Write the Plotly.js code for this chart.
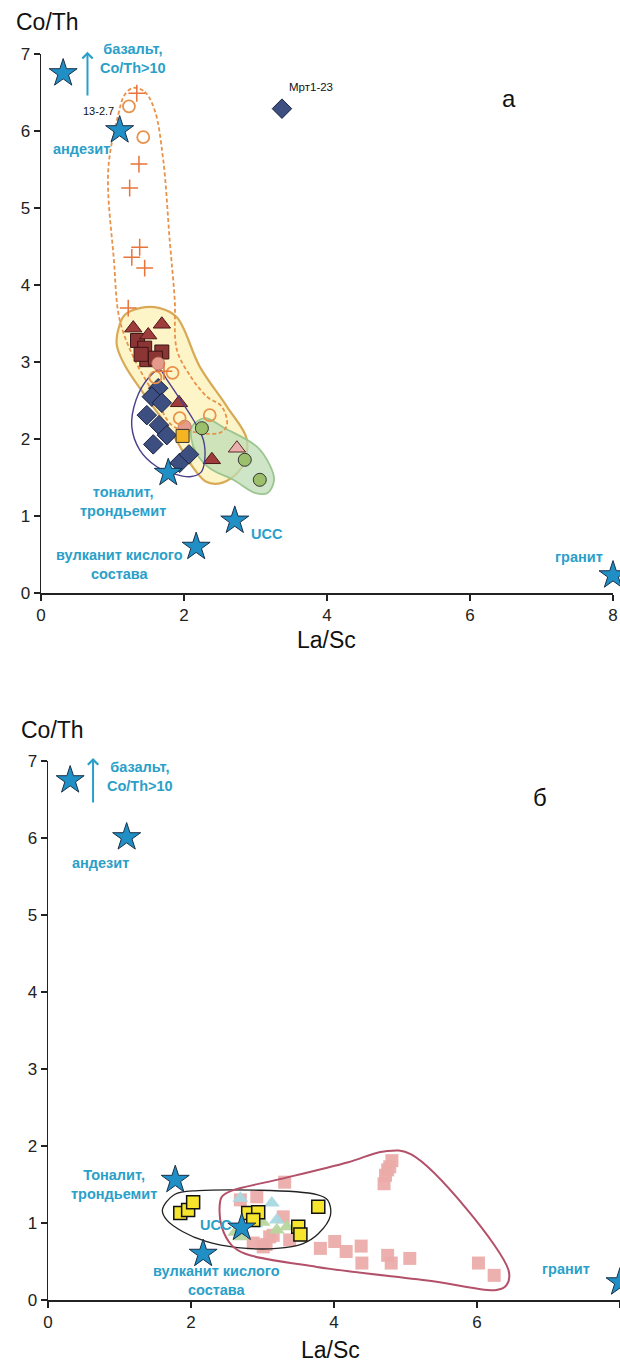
<!DOCTYPE html>
<html><head><meta charset="utf-8">
<script src="https://cdn.plot.ly/plotly-3.0.1.min.js"></script>
<style>html,body{margin:0;padding:0;background:#fff}</style>
</head><body>
<div id="chart" style="width:620px;height:1368px"></div>
<script>
// ---------- Panel a data ----------
const refNames = ['базальт', 'андезит', 'тоналит, трондьемит', 'UCC', 'вулканит кислого состава', 'гранит'];
const refX = [0.31, 1.10, 1.78, 2.71, 2.17, 8.0];
const refY = [6.75, 6.01, 1.56, 0.94, 0.60, 0.23];

const aPlusX = [1.34, 1.37, 1.24, 1.38, 1.27, 1.45, 1.22, 1.72];
const aPlusY = [6.49, 5.57, 5.26, 4.49, 4.36, 4.22, 3.70, 2.88];
const aOpenCircX = [1.23, 1.43, 1.84, 1.60, 1.94, 2.36];
const aOpenCircY = [6.32, 5.92, 2.86, 2.80, 2.27, 2.31];
const aRedTriX = [1.29, 1.69, 1.50, 1.93, 2.39];
const aRedTriY = [3.44, 3.49, 3.35, 2.47, 1.73];
const aPinkTriX = [2.74];
const aPinkTriY = [1.88];
const aRedSqX = [1.35, 1.45, 1.69, 1.48, 1.60, 1.40];
const aRedSqY = [3.28, 3.18, 3.13, 3.03, 3.05, 3.10];
const aSalmonX = [1.64, 2.01];
const aSalmonY = [2.98, 2.16];
const aGoldSqX = [1.98];
const aGoldSqY = [2.04];
const aGreenX = [2.25, 2.85, 3.06];
const aGreenY = [2.14, 1.73, 1.47];
const aDiaX = [1.64, 1.55, 1.69, 1.48, 1.65, 1.76, 1.57, 1.94, 2.07, 3.37];
const aDiaY = [2.66, 2.55, 2.47, 2.31, 2.18, 2.05, 1.93, 1.69, 1.80, 6.29];

// envelopes panel a
const envYellowX = [1.08, 1.17, 1.38, 1.66, 1.90, 2.22, 2.60, 2.88, 2.80, 2.53, 2.32, 2.15, 1.80, 1.45, 1.17, 1.06];
const envYellowY = [3.42, 3.61, 3.70, 3.70, 3.58, 2.94, 2.42, 1.99, 1.62, 1.43, 1.44, 1.60, 2.12, 2.57, 2.96, 3.22];
const envGreenX = [2.11, 2.29, 2.57, 3.02, 3.20, 3.26, 3.17, 2.99, 2.69, 2.36, 2.17, 2.10];
const envGreenY = [2.16, 2.27, 2.14, 1.90, 1.66, 1.47, 1.30, 1.30, 1.47, 1.62, 1.82, 2.01];
const envNavyX = [1.66, 1.50, 1.33, 1.27, 1.38, 1.62, 1.85, 2.08, 2.24, 2.29, 2.27, 2.13, 1.92, 1.76];
const envNavyY = [2.90, 2.79, 2.51, 2.16, 1.86, 1.64, 1.55, 1.51, 1.57, 1.73, 1.99, 2.25, 2.55, 2.77];
const envOrangeX = [1.29, 1.45, 1.59, 1.71, 1.80, 1.87, 1.90, 2.08, 2.32, 2.53, 2.60, 2.50, 2.15, 1.83, 1.59, 1.31, 1.10, 1.02, 0.94, 1.08, 1.17];
const envOrangeY = [6.56, 6.51, 6.27, 5.62, 4.58, 3.81, 3.16, 2.83, 2.55, 2.42, 2.18, 2.08, 2.09, 2.18, 2.57, 3.03, 3.55, 4.32, 5.49, 6.21, 6.47];

// ---------- Panel b data ----------
const bYellowSqX = [1.85, 1.96, 2.03, 2.80, 2.94, 2.87, 3.50, 3.53, 3.78];
const bYellowSqY = [1.13, 1.17, 1.27, 1.13, 1.14, 1.04, 0.95, 0.85, 1.21];
const bPinkSqX = [3.31, 2.69, 2.92, 3.10, 3.29, 3.38, 2.87, 3.01, 3.15, 3.81, 4.01, 4.17, 4.38, 4.39, 4.75, 4.80, 5.06, 6.02, 6.24, 4.70, 4.72, 4.75, 4.78, 4.81, 3.05];
const bPinkSqY = [1.53, 1.30, 1.34, 0.82, 1.08, 0.78, 0.74, 0.69, 0.84, 0.67, 0.76, 0.63, 0.70, 0.48, 0.58, 0.48, 0.54, 0.48, 0.32, 1.51, 1.62, 1.69, 1.73, 1.81, 0.72];
const bBlueTriX = [2.69, 3.13, 3.20, 2.90];
const bBlueTriY = [1.32, 1.26, 1.04, 0.99];
const bGreenTriX = [3.00, 3.20, 2.69, 3.34, 2.62];
const bGreenTriY = [1.01, 0.91, 0.82, 0.95, 0.88];

const envBlackX = [1.60, 1.77, 2.10, 3.76, 3.91, 3.95, 3.78, 3.56, 3.20, 2.65, 2.21, 1.88, 1.66];
const envBlackY = [1.17, 1.37, 1.42, 1.37, 1.30, 1.10, 0.86, 0.73, 0.67, 0.68, 0.76, 0.89, 1.04];
const envRedX = [2.43, 2.57, 3.20, 4.20, 4.70, 5.08, 6.44, 6.41, 6.27, 5.41, 3.76, 2.76, 2.57, 2.43, 2.40];
const envRedY = [1.34, 1.42, 1.56, 1.79, 1.93, 1.89, 0.39, 0.19, 0.13, 0.24, 0.43, 0.60, 0.71, 0.95, 1.21];

// ---------- helpers ----------
function closed(a) { return a.concat([a[0]]); }
function env(xs, ys, xa, ya, lineColor, width, dash, fillColor) {
  return {x: closed(xs), y: closed(ys), xaxis: xa, yaxis: ya, mode: 'lines', type: 'scatter',
    line: {color: lineColor, width: width, dash: dash, shape: 'spline', smoothing: 1},
    fill: fillColor ? 'toself' : 'none', fillcolor: fillColor || 'rgba(0,0,0,0)', hoverinfo: 'skip'};
}
function pts(xs, ys, xa, ya, symbol, size, color, lineColor, lineWidth, opacity) {
  return {x: xs, y: ys, xaxis: xa, yaxis: ya, mode: 'markers', type: 'scatter', cliponaxis: false,
    marker: {symbol: symbol, size: size, color: color, opacity: opacity || 1,
      line: {color: lineColor, width: lineWidth}}};
}
const STAR = '#1f8fc6', STARL = '#1b3148';
const TEAL = '#2aa0c9';

const traces = [
  env(envYellowX, envYellowY, 'x', 'y', '#d8aa58', 2.2, 'solid', 'rgba(253,243,185,0.8)'),
  env(envGreenX, envGreenY, 'x', 'y', '#9cc690', 1.8, 'solid', 'rgba(190,220,180,0.75)'),
  env(envOrangeX, envOrangeY, 'x', 'y', '#e8924a', 1.8, '4px,2.5px', null),
  pts(aRedSqX, aRedSqY, 'x', 'y', 'square', 14, '#8c3535', '#3c1414', 1),
  pts(aRedTriX, aRedTriY, 'x', 'y', 'triangle-up', 15, '#a03c3c', '#4a1818', 1),
  pts(aPinkTriX, aPinkTriY, 'x', 'y', 'triangle-up', 15, '#eab0ae', '#5a2a2a', 1),
  env(envNavyX, envNavyY, 'x', 'y', '#4b3f8c', 1.4, 'solid', null),
  pts(aDiaX, aDiaY, 'x', 'y', 'diamond', 15, '#3d4e80', '#1a2240', 1),
  pts(aSalmonX, aSalmonY, 'x', 'y', 'circle', 13, '#e49b8c', '#b86a5a', 0.8),
  pts(aGoldSqX, aGoldSqY, 'x', 'y', 'square', 13, '#f6b422', '#333', 1),
  pts(aGreenX, aGreenY, 'x', 'y', 'circle', 13, '#9cbf6c', '#333', 1),
  pts(aOpenCircX, aOpenCircY, 'x', 'y', 'circle-open', 12, '#e8924a', '#e8924a', 1.8),
  pts(aPlusX, aPlusY, 'x', 'y', 'cross-thin', 12, '#e8743a', '#e8743a', 1.5),
  pts(refX, refY, 'x', 'y', 'star', 21, STAR, STARL, 1),

  pts(bPinkSqX, bPinkSqY, 'x2', 'y2', 'square', 13, '#eaaaa7', '#eaaaa7', 0, 0.92),
  pts(bBlueTriX, bBlueTriY, 'x2', 'y2', 'triangle-up', 14, '#a9d9e2', '#a9d9e2', 0, 0.95),
  pts(bGreenTriX, bGreenTriY, 'x2', 'y2', 'triangle-up', 14, '#b7d69e', '#b7d69e', 0, 0.95),
  env(envBlackX, envBlackY, 'x2', 'y2', '#222', 1.3, 'solid', null),
  env(envRedX, envRedY, 'x2', 'y2', '#b3506a', 2, 'solid', null),
  pts(bYellowSqX, bYellowSqY, 'x2', 'y2', 'square', 13, '#f6e52c', '#111', 1.5),
  pts(refX, refY, 'x2', 'y2', 'star', 21, STAR, STARL, 1)
];

const axisCommon = {showline: true, linecolor: '#222', linewidth: 1.5, ticks: 'outside', ticklen: 6, tickwidth: 1.5,
  tickcolor: '#222', showgrid: false, zeroline: false, tickfont: {family: 'Liberation Sans, Arial', size: 17, color: '#222'},
  fixedrange: true};

function tealLabel(text, x, y, xref, yref, anchor) {
  return {text: '<b>' + text + '</b>', x: x, y: y, xref: xref, yref: yref, showarrow: false,
    xanchor: anchor || 'center', yanchor: 'middle', font: {family: 'Liberation Sans, Arial', size: 14.5, color: TEAL}};
}
function blackLabel(text, x, y, xref, yref, size, anchor) {
  return {text: text, x: x, y: y, xref: xref, yref: yref, showarrow: false,
    xanchor: anchor || 'center', yanchor: 'middle', font: {family: 'Liberation Sans, Arial', size: size, color: '#111'}};
}
function arrow(x, y0, y1, xref, yref) {
  return {x: x, y: y1, ax: x, ay: y0, xref: xref, yref: yref, axref: xref, ayref: yref, showarrow: true,
    arrowhead: 4, arrowsize: 1, arrowwidth: 2, arrowcolor: TEAL, text: ''};
}

const annotations = [
  // panel a
  blackLabel('Co/Th', 47 / 620, 1 - 22 / 1368, 'paper', 'paper', 23),
  blackLabel('La/Sc', 326 / 620, 1 - 640 / 1368, 'paper', 'paper', 23),
  blackLabel('а', 6.55, 6.42, 'x', 'y', 24),
  blackLabel('Мрт1-23', 3.78, 6.57, 'x', 'y', 11.5),
  blackLabel('13-2.7', 0.80, 6.26, 'x', 'y', 11),
  arrow(0.65, 6.44, 7.03, 'x', 'y'),
  tealLabel('базальт,<br>Co/Th>10', 0.80, 6.94, 'x', 'y', 'left'),
  tealLabel('андезит', 0.56, 5.76, 'x', 'y'),
  tealLabel('тоналит,<br>трондьемит', 1.15, 1.19, 'x', 'y'),
  tealLabel('UCC', 2.91, 0.76, 'x', 'y', 'left'),
  tealLabel('вулканит кислого<br>состава', 1.10, 0.37, 'x', 'y'),
  tealLabel('гранит', 7.52, 0.47, 'x', 'y'),
  // panel b
  blackLabel('Co/Th', 52 / 620, 1 - 730 / 1368, 'paper', 'paper', 23),
  blackLabel('La/Sc', 330 / 620, 1 - 1350 / 1368, 'paper', 'paper', 23),
  blackLabel('б', 6.88, 6.53, 'x2', 'y2', 24),
  arrow(0.63, 6.44, 7.04, 'x2', 'y2'),
  tealLabel('базальт,<br>Co/Th>10', 0.80, 6.80, 'x2', 'y2', 'left'),
  tealLabel('андезит', 0.74, 5.67, 'x2', 'y2'),
  tealLabel('Тоналит,<br>трондьемит', 0.92, 1.50, 'x2', 'y2'),
  tealLabel('UCC', 2.60, 0.98, 'x2', 'y2', 'right'),
  tealLabel('вулканит кислого<br>состава', 2.35, 0.25, 'x2', 'y2'),
  tealLabel('гранит', 7.24, 0.40, 'x2', 'y2')
];

const layout = {
  width: 620, height: 1368, margin: {l: 0, r: 0, t: 0, b: 0}, showlegend: false,
  paper_bgcolor: '#fff', plot_bgcolor: 'rgba(0,0,0,0)',
  xaxis: Object.assign({}, axisCommon, {domain: [41 / 620, 613 / 620], range: [0, 8], tickvals: [0, 2, 4, 6, 8], anchor: 'y'}),
  yaxis: Object.assign({}, axisCommon, {domain: [1 - 593 / 1368, 1 - 54 / 1368], range: [0, 7], tickvals: [0, 1, 2, 3, 4, 5, 6, 7], anchor: 'x'}),
  xaxis2: Object.assign({}, axisCommon, {domain: [48 / 620, 620 / 620], range: [0, 8], tickvals: [0, 2, 4, 6, 8], anchor: 'y2'}),
  yaxis2: Object.assign({}, axisCommon, {domain: [1 - 1300 / 1368, 1 - 761 / 1368], range: [0, 7], tickvals: [0, 1, 2, 3, 4, 5, 6, 7], anchor: 'x2'}),
  annotations: annotations
};

Plotly.newPlot('chart', traces, layout, {staticPlot: true, displayModeBar: false});
</script>
</body></html>
